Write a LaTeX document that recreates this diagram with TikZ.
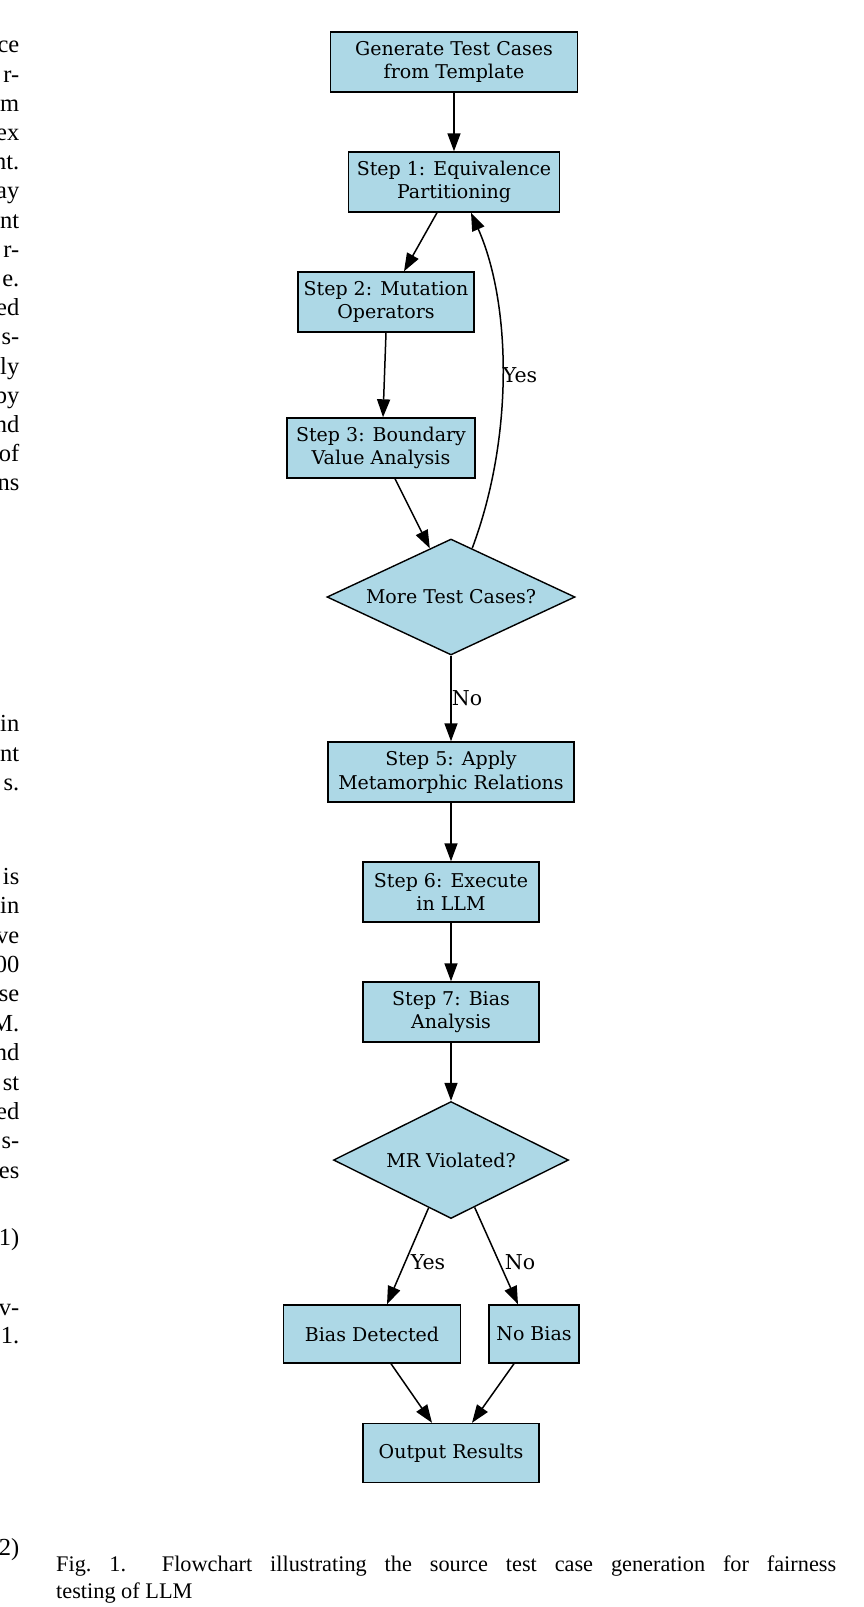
\documentclass[tikz,border=0pt]{standalone}
\usepackage{fontspec}
\setmainfont{Liberation Serif}
\newfontfamily\dvs{DejaVu Serif}
\usetikzlibrary{shapes.geometric,arrows.meta,calc}
\definecolor{lb}{RGB}{173,216,230}
\begin{document}
\begin{tikzpicture}[x=1pt,y=-1pt,
  box/.style={draw=black,fill=lb,line width=1.4pt,inner sep=0pt,minimum height=60pt,align=center,font=\dvs\fontsize{19}{23.5}\selectfont},
  dia/.style={box,diamond,aspect=2.1},
  edge/.style={line width=1.5pt,-{Triangle[length=18pt,width=13pt]}},
  lbl/.style={font=\dvs\fontsize{20.5}{24}\selectfont,inner sep=0pt},
  col/.style={font=\fontsize{24.5}{29.4}\selectfont,inner sep=0pt,anchor=mid east}]
\fill[white] (0,0) rectangle (864,1607);
\useasboundingbox (0,0) rectangle (864,1607);

% left column fragments
\foreach \t/\y [count=\i] in {ce/50.5,r-/79.7,m/108.9,ex/138.1,nt./167.3,ay/196.5,nt/225.7,r-/254.9,e./284.1,ed/313.3,s-/342.5,ly/371.7,by/400.9,nd/430.1,of/459.3,ns/488.5,in/729.5,nt/759,s./788.5,is/882,in/911.4,ve/940.8,00/970.2,se/999.6,M./1029,nd/1058.4,st/1087.8,ed/1117.2,s-/1146.6,es/1176,1)/1243,v-/1313,1./1341,2)/1553}
  \node[col] (L\i) at (19.5,\y) {\t};

% flowchart nodes
\node[box,minimum width=247pt] (gen) at (454,62) {Generate Test Cases\\from Template};
\node[box,minimum width=211pt] (s1) at (454,182) {Step 1: Equivalence\\Partitioning};
\node[box,minimum width=176pt] (s2) at (386,302) {Step 2: Mutation\\Operators};
\node[box,minimum width=188pt] (s3) at (381,448) {Step 3: Boundary\\Value Analysis};
\node[dia,minimum width=248pt,minimum height=116pt] (d1) at (451,597) {More Test Cases?};
\node[box,minimum width=246pt] (s5) at (451,772) {Step 5: Apply\\Metamorphic Relations};
\node[box,minimum width=176pt] (s6) at (451,892) {Step 6: Execute\\in LLM};
\node[box,minimum width=176pt] (s7) at (451,1012) {Step 7: Bias\\Analysis};
\node[dia,minimum width=235pt,minimum height=117pt] (d2) at (451,1160) {MR Violated?};
\node[box,minimum width=177pt,minimum height=58pt] (bd) at (372,1334) {Bias Detected};
\node[box,minimum width=90pt,minimum height=58pt] (nb) at (534,1334) {No Bias};
\node[box,minimum width=176pt,minimum height=59pt] (out) at (451,1453) {Output Results};

% connectors
\draw[edge] (gen.south) -- (s1.north);
\draw[edge] ([xshift=-17pt]s1.south) -- ([xshift=18pt]s2.north);
\draw[edge] (s2.south) -- ([xshift=2pt]s3.north);
\draw[edge] ([xshift=14pt]s3.south) -- ($(d1.north)!0.17!(d1.west)$);
\draw[edge] ($(d1.north)!0.17!(d1.east)$) .. controls +(42,-112) and +(40,90) .. ([xshift=17pt]s1.south);
\node[lbl] (yes1) at (520,375) {Yes};
\draw[edge] (d1.south) -- (s5.north);
\node[lbl] (no1) at (467,698) {No};
\draw[edge] (s5.south) -- (s6.north);
\draw[edge] (s6.south) -- (s7.north);
\draw[edge] (s7.south) -- (d2.north);
\draw[edge] ($(d2.south)!0.19!(d2.west)$) -- ([xshift=15pt]bd.north);
\draw[edge] ($(d2.south)!0.2!(d2.east)$) -- ([xshift=-16pt]nb.north);
\node[lbl] (yes2) at (428,1262) {Yes};
\node[lbl] (no2) at (520,1262) {No};
\draw[edge] ([xshift=19pt]bd.south) -- ([xshift=-19pt]out.north);
\draw[edge] ([xshift=-20pt]nb.south) -- ([xshift=21pt]out.north);

% caption
\node[anchor=base west,inner sep=0pt,font=\fontsize{22.3}{27}\selectfont] (cap1) at (56,1571) {\makebox[780pt][s]{Fig.~1.\ \ Flowchart illustrating the source test case generation for fairness}};
\node[anchor=base west,inner sep=0pt,font=\fontsize{22.3}{27}\selectfont] (cap2) at (56,1598) {testing of LLM};
\end{tikzpicture}
\end{document}
